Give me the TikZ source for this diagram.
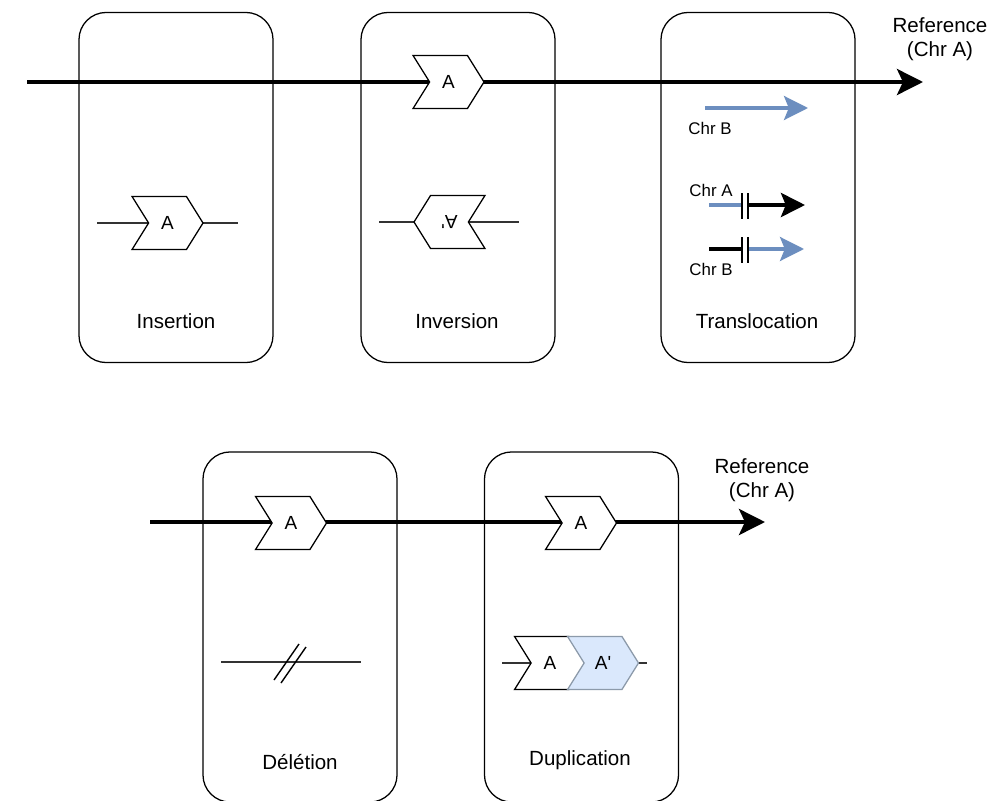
\documentclass[tikz,border=0pt]{standalone}
\usepackage{fontspec}
\setmainfont{Liberation Sans}
\usetikzlibrary{shapes.symbols,arrows.meta,calc}
\pgfdeclarelayer{bg}
\pgfsetlayers{bg,main}
\definecolor{chrblue}{HTML}{6C8EBF}
\definecolor{dupfill}{HTML}{DAE8FC}
\definecolor{dupline}{HTML}{8C9AAA}

\begin{document}
\begin{tikzpicture}[x=0.025cm,y=-0.025cm,
    casebox/.style={draw,rounded corners=0.68cm,line width=0.9pt,minimum width=4.85cm,minimum height=8.75cm},
    chev/.style={signal,signal to=east,signal from=west,signal pointer angle=116,draw,fill=white,line width=0.9pt,minimum width=1.775cm,minimum height=1.33cm,inner sep=0pt,font=\fontsize{13.5}{15}\selectfont},
    chevinv/.style={chev,signal to=west,signal from=east},
    lbl/.style={font=\fontsize{14.6}{17}\selectfont,align=center},
    chr/.style={font=\fontsize{12}{14}\selectfont},
    refline/.style={line width=2.9pt,-{Stealth[length=0.65cm,width=0.65cm,inset=0.15cm]}},
    seg/.style={line width=1pt,draw=black!80},
    bluearr/.style={chrblue,line width=2.2pt,-{Stealth[length=0.6cm,width=0.6cm,inset=0.12cm]}},
    blackarr/.style={line width=2.9pt,-{Stealth[length=0.6cm,width=0.6cm,inset=0.12cm]}},
    bar/.style={line width=1pt}]
    \useasboundingbox (0,0) rectangle (992,801);

    % case boxes
    \node[casebox] (ins) at (176,187.5) {};
    \node[casebox] (inv) at (458,187.5) {};
    \node[casebox] (trl) at (758,187.5) {};
    \node[casebox] (del) at (300,627) {};
    \node[casebox] (dup) at (581.5,627) {};

    \node[lbl] (insT) at (176,321) {Insertion};
    \node[lbl] (invT) at (457,321) {Inversion};
    \node[lbl] (trlT) at (757,321) {Translocation};
    \node[lbl] (delT) at (300,762) {Délétion};
    \node[lbl] (dupT) at (580,760) {Duplication};
    \node[lbl] (refT) at (940,39) {Reference\\(Chr A)};
    \node[lbl] (refB) at (762,480) {Reference\\(Chr A)};

    % segments A
    \node[chev] (insA) at (167.5,223) {A};
    \node[chev] (invA) at (448.5,82) {A};
    \node[chevinv] (invB) at (449.5,222) {\rotatebox{180}{A\textquotesingle}};
    \node[chev] (delA) at (291,523) {A};
    \node[chev] (dupA) at (581,523) {A};
    \node[chev] (dupB1) at (550,663) {A};
    \node[chev,fill=dupfill,draw=dupline] (dupB2) at (603,663) {A\textquotesingle};

    \coordinate (refL) at (27,82);   \coordinate (refR) at (923,82);
    \coordinate (refBL) at (150,522); \coordinate (refBR) at (765,522);
    \coordinate (insL) at (97,223);  \coordinate (insR) at (238,223);
    \coordinate (invL) at (379,222); \coordinate (invR) at (519,222);
    \coordinate (delL) at (221,662); \coordinate (delR) at (361,662);
    \coordinate (dupL) at (502,663); \coordinate (dupR) at (647,663);

    \begin{pgfonlayer}{bg}
    \fill[white] (0,0) rectangle (992,801);
    \draw[refline] (refL) -- (refR); % reference chr A
    \draw[refline] (refBL) -- (refBR);
    \draw[seg] (insL) -- (insA.center) -- (insR);
    \draw[seg] (invL) -- (invB.center) -- (invR);
    \draw[seg] (dupL) -- (dupB1.center);
    \draw[seg] (dupB2.center) -- (dupR);
    \end{pgfonlayer}

    % deletion cut
    \draw[seg] (delL) -- (delR);
    \draw[line width=1pt] (274,680) -- (299,644) (281,683) -- (306,647);

    % translocation
    \node[chr] (chrB1) at (710,128) {Chr B};
    \coordinate (b1s) at (705,108); \coordinate (b1e) at (808,108);
    \draw[bluearr] (b1s) -- (b1e);

    \node[chr] (chrA) at (711,190) {Chr A};
    \coordinate (a2s) at (709,205); \coordinate (a2m) at (742,205);
    \coordinate (a2n) at (748,205); \coordinate (a2e) at (805,205);
    \draw[chrblue,line width=2.2pt] (a2s) -- (a2m);
    \draw[blackarr] (a2n) -- (a2e);
    \draw[bar] (742,193) -- (742,219) (748,193) -- (748,219); % junction

    \node[chr] (chrB2) at (711,269) {Chr B};
    \coordinate (b3s) at (709,249); \coordinate (b3m) at (742,249);
    \coordinate (b3n) at (748,249); \coordinate (b3e) at (804,249);
    \draw[line width=2.9pt] (b3s) -- (b3m);
    \draw[bluearr] (b3n) -- (b3e);
    \draw[bar] (742,237) -- (742,263) (748,237) -- (748,263); % junction
\end{tikzpicture}
\end{document}
